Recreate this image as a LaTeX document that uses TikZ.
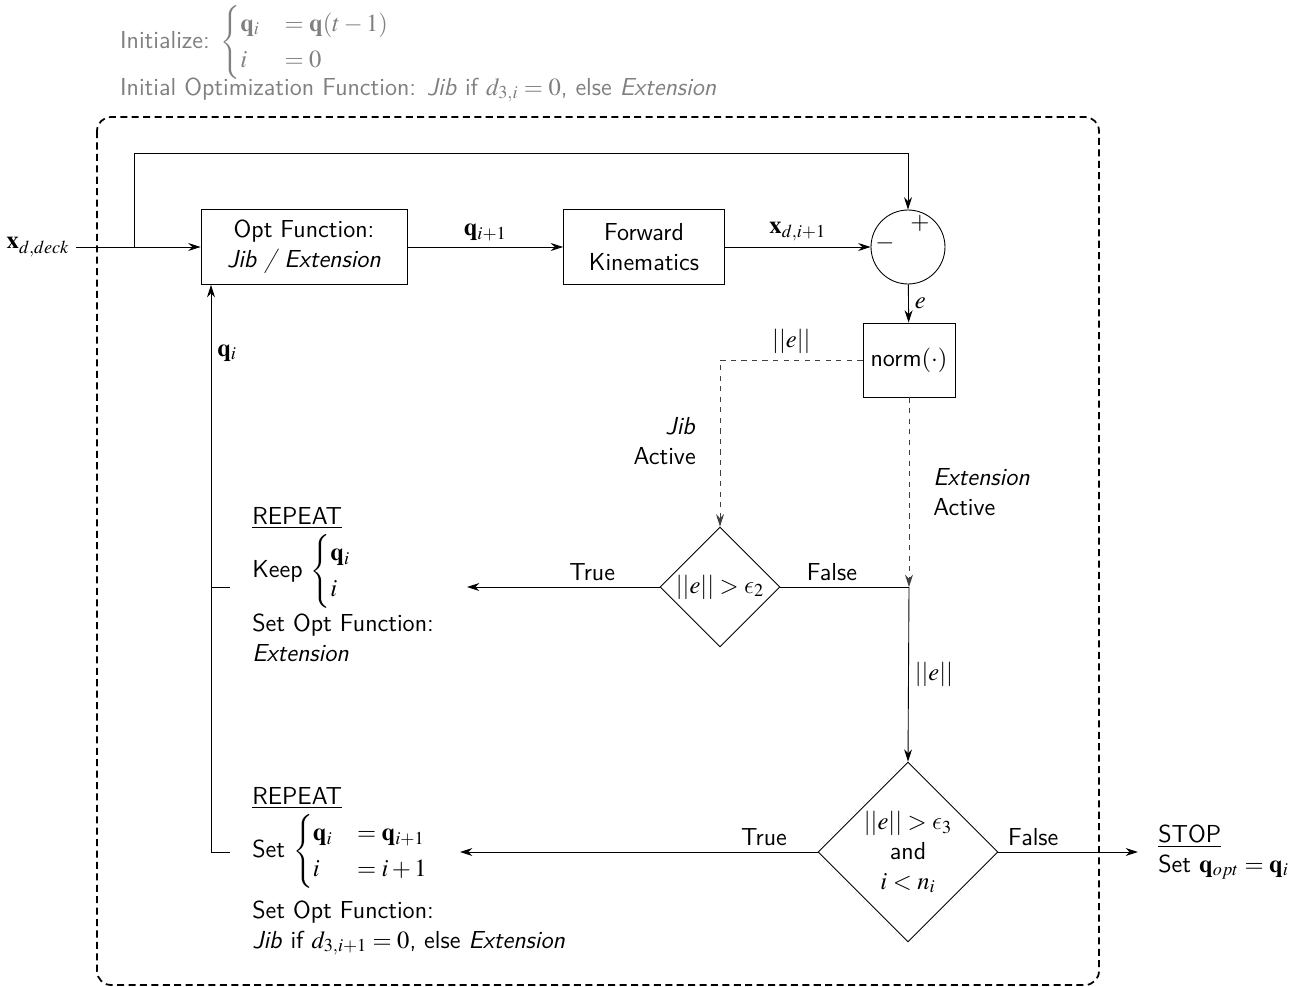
\documentclass[tikz,border=0pt]{standalone}
\usepackage{amsmath}
\usepackage{amssymb}
\usepackage{mathptmx}
\usepackage{tikz}
\usetikzlibrary{arrows.meta, positioning, calc, shapes.geometric}
\DeclareSymbolFont{cmletters}{OML}{cmm}{m}{it}
\DeclareMathSymbol{\lunateeps}{\mathord}{cmletters}{"0F}
\tikzset{
    flowchart/.style={>={Stealth[length=7pt,width=4.5pt]}, line width=0.5pt, font=\sffamily\fontsize{14}{17}\selectfont},
    block/.style={draw, minimum height=1.5cm, align=center},
    sum/.style={draw, circle, minimum size=1.48cm, inner sep=0pt},
    decision/.style={draw, diamond, aspect=1, inner sep=0pt},
    note/.style={align=left},
    signal/.style={dashed, black!75},
    % gray header text above the loop frame
    header/.style={text=black!50, anchor=west, inner sep=1pt},
}

\begin{document}
\begin{tikzpicture}[flowchart, x=0.02cm, y=-0.02cm]
    \useasboundingbox (0,0) rectangle (1302,987);

    % loop frame
    \draw[line width=1pt, dash pattern=on 4pt off 2.5pt, rounded corners=8pt] (97,117) rectangle (1099,985);

    \node[header] (init) at (118,42) {Initialize: $\begin{cases}\mathbf{q}_i & = \mathbf{q}(t-1)\\ i & = 0\end{cases}$};
    \node[header] (initfun) at (118,90) {Initial Optimization Function: \textit{Jib} if $d_{3,i}=0$, else \textit{Extension}};

    \node (xdes) at (38,247) {$\mathbf{x}_{d,deck}$};
    \node[block, minimum width=4.12cm] (opt) at (304,247) {Opt Function:\\ \textit{Jib / Extension}};
    \node[block, minimum width=3.22cm] (fk) at (644,247) {Forward\\ Kinematics};
    \node[sum] (err) at (908,247) {};
    \node at ($(err.center)+(12,-24)$) {$+$};
    \node at ($(err.center)+(-23,-4)$) {$-$};
    \node[block, minimum width=1.84cm, minimum height=1.48cm] (norm) at (909,360) {norm$(\cdot)$};

    \node[decision, minimum size=2.4cm, label=center:{$||e|| > \lunateeps_2$}] (test2) at (720,587) {};
    \node[decision, minimum size=3.6cm, label={[align=center]center:{$||e|| > \lunateeps_3$\\ and\\ $i < n_i$}}] (test3) at (908,852) {};

    \node[align=right, anchor=east] (jibact) at (702,441) {\textit{Jib}\\ Active};
    \node[align=left, anchor=west] (extact) at (927,492) {\textit{Extension}\\ Active};

    \node[note, anchor=north west] (repeat1) at (246,501) {\underline{REPEAT}\\[2pt] Keep\ $\begin{cases}\mathbf{q}_i\\ i\end{cases}$\\[2pt] Set Opt Function:\\ \textit{Extension}};
    \node[note, anchor=north west] (repeat2) at (246,781) {\underline{REPEAT}\\[2pt] Set\ $\begin{cases}\mathbf{q}_i & = \mathbf{q}_{i+1}\\ i & = i+1\end{cases}$\\[6pt] Set Opt Function:\\ \textit{Jib} if $d_{3,i+1}=0$, else \textit{Extension}};
    \node[note, anchor=west] (stop) at (1152,852) {\underline{STOP}\\ Set $\mathbf{q}_{opt} = \mathbf{q}_i$};

    \coordinate (split) at (134,247);
    \coordinate (over) at (134,153);
    \coordinate (merge) at (norm.south |- test2.east);
    \coordinate (keep) at (467,587);
    \coordinate (next) at (460,852);
    \coordinate (rep1) at (230,587);
    \coordinate (rep2) at (230,852);
    \coordinate (fb) at (211,852);

    % forward path
    \draw[->] (xdes.east) -- (opt.west);
    \draw[->] (split) -- (over) -| (err.north);
    \draw[->] (opt) -- node[above] {$\mathbf{q}_{i+1}$} (fk);
    \draw[->] (fk) -- node[above] {$\mathbf{x}_{d,i+1}$} (err);
    \draw[->] (err) -- node[right] {$e$} (norm);

    % mode switching
    \draw[signal, ->] (norm.west) -| node[pos=0.25, above, text=black] {$||e||$} (test2.north);
    \draw[signal, ->] (norm.south) -- (merge);
    \draw (test2.east) -- node[pos=0.4, above] {False} (merge);
    \draw[->] (test2.west) -- node[pos=0.35, above] {True} (keep);
    \draw[->] (merge) -- node[right] {$||e||$} (test3.north);
    \draw[->] (test3.east) -- node[pos=0.25, above] {False} ([xshift=-8pt]stop.west);
    \draw[->] (test3.west) -- node[pos=0.15, above] {True} (next);

    % feedback of q_i
    \draw (rep1) -- (fb |- rep1);
    \draw[->] (rep2) -- (fb) -- (fb |- opt.south) node[pos=0.88, right] {$\mathbf{q}_i$};
\end{tikzpicture}
\end{document}
